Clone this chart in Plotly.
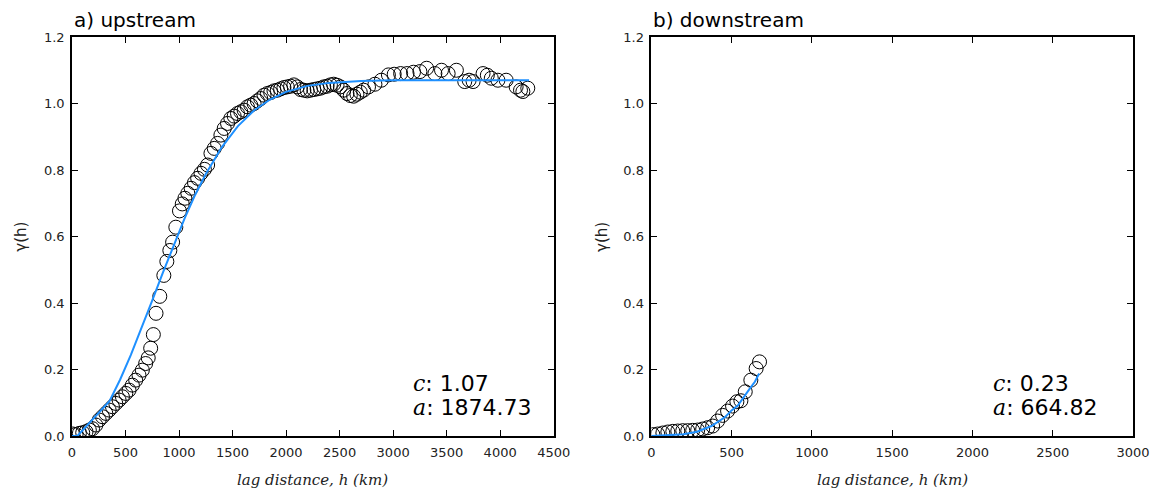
import plotly.graph_objects as go

# ---------------- data: upstream ----------------
up_h = [8, 38, 69, 100, 131, 162, 192, 223, 254, 285, 316, 347, 378, 409, 440, 471, 502, 533,
        564, 595, 626, 657, 688, 712, 735, 760, 785, 820, 858, 886, 914, 940, 970, 1004, 1030,
        1055, 1082, 1113, 1144, 1174, 1205, 1237, 1267, 1298, 1329, 1360, 1391, 1422, 1453,
        1484, 1515, 1546, 1577, 1608, 1639, 1670, 1701, 1732, 1763, 1794, 1825, 1856, 1887,
        1918, 1949, 1980, 2011, 2042, 2073, 2104, 2135, 2166, 2197, 2228, 2259, 2290, 2321,
        2352, 2383, 2414, 2445, 2476, 2507, 2538, 2569, 2600, 2631, 2662, 2693, 2724, 2770,
        2830, 2890, 2956, 3010, 3070, 3130, 3190, 3250, 3313, 3390, 3452, 3514, 3591, 3669,
        3710, 3747, 3840, 3880, 3917, 3979, 4056, 4149, 4190, 4212, 4258]
up_g = [0.006, 0.004, 0.008, 0.010, 0.013, 0.018, 0.022, 0.033, 0.048, 0.058, 0.068, 0.078,
        0.088, 0.098, 0.108, 0.118, 0.128, 0.138, 0.153, 0.168, 0.183, 0.198, 0.218, 0.235,
        0.264, 0.305, 0.369, 0.420, 0.483, 0.525, 0.558, 0.583, 0.628, 0.677, 0.698, 0.715,
        0.730, 0.745, 0.762, 0.775, 0.790, 0.802, 0.815, 0.850, 0.865, 0.880, 0.905, 0.925,
        0.940, 0.955, 0.962, 0.970, 0.975, 0.980, 0.990, 0.995, 1.000, 1.008, 1.015, 1.025,
        1.030, 1.033, 1.038, 1.040, 1.044, 1.048, 1.050, 1.052, 1.056, 1.050, 1.042, 1.040,
        1.038, 1.040, 1.042, 1.044, 1.046, 1.050, 1.052, 1.056, 1.058, 1.055, 1.050, 1.040,
        1.030, 1.024, 1.022, 1.028, 1.034, 1.040, 1.050, 1.058, 1.070, 1.086, 1.088, 1.090,
        1.090, 1.094, 1.096, 1.106, 1.090, 1.100, 1.090, 1.100, 1.066, 1.070, 1.066, 1.090,
        1.085, 1.076, 1.070, 1.070, 1.050, 1.040, 1.036, 1.046]

up_fit_h = [0, 50, 350, 450, 550, 650, 750, 850, 950, 1050, 1150, 1250, 1400, 1550, 1700,
            1850, 2000, 2200, 2400, 2700, 3000, 3500, 4000, 4270]
up_fit_g = [0.0, 0.0, 0.105, 0.170, 0.244, 0.324, 0.408, 0.492, 0.575, 0.653, 0.725, 0.788,
            0.869, 0.932, 0.979, 1.012, 1.035, 1.053, 1.062, 1.068, 1.070, 1.070, 1.070, 1.070]

# ---------------- data: downstream ----------------
dn_h = [10, 40, 72, 103, 134, 165, 196, 227, 258, 289, 320, 351, 382, 413, 444, 475, 506,
        533, 558, 585, 620, 653, 674]
dn_g = [0.004, 0.006, 0.009, 0.012, 0.014, 0.015, 0.016, 0.016, 0.017, 0.018, 0.021, 0.025,
        0.030, 0.045, 0.062, 0.075, 0.090, 0.103, 0.106, 0.133, 0.168, 0.203, 0.223]

dn_fit_h = [0, 100, 200, 285, 375, 460, 500, 540, 575, 610, 645, 672]
dn_fit_g = [0.0, 0.002, 0.005, 0.013, 0.030, 0.057, 0.077, 0.092, 0.118, 0.140, 0.163, 0.188]

panel_titles = ["a) upstream", "b) downstream"]
params = [("1.07", "1874.73"), ("0.23", "664.82")]
x_ticks_up = [0, 500, 1000, 1500, 2000, 2500, 3000, 3500, 4000, 4500]
x_ticks_dn = [0, 500, 1000, 1500, 2000, 2500, 3000]
y_ticks = [0.0, 0.2, 0.4, 0.6, 0.8, 1.0, 1.2]

LINE = "#1E90FF"
marker = dict(symbol="circle-open", size=14, color="black", line=dict(width=1, color="black"))

fig = go.Figure()
fig.add_trace(go.Scatter(x=up_h, y=up_g, mode="markers", marker=marker, xaxis="x", yaxis="y",
                         showlegend=False))
fig.add_trace(go.Scatter(x=up_fit_h, y=up_fit_g, mode="lines", line=dict(color=LINE, width=2),
                         xaxis="x", yaxis="y", showlegend=False))
fig.add_trace(go.Scatter(x=dn_h, y=dn_g, mode="markers", marker=marker, xaxis="x2", yaxis="y2",
                         showlegend=False))
fig.add_trace(go.Scatter(x=dn_fit_h, y=dn_fit_g, mode="lines", line=dict(color=LINE, width=2),
                         xaxis="x2", yaxis="y2", showlegend=False))

tickfont = dict(family="DejaVu Sans", size=13, color="#222")
common = dict(showline=True, linecolor="black", linewidth=1.5, mirror="ticks", ticks="inside",
              ticklen=6, tickwidth=1, tickcolor="black", showgrid=False, zeroline=False,
              tickfont=tickfont)

fig.update_layout(
    width=1162, height=494,
    margin=dict(l=72, r=24, t=37, b=58),
    paper_bgcolor="white", plot_bgcolor="white",
    xaxis=dict(domain=[0, 0.454], range=[0, 4500], tickvals=x_ticks_up, anchor="y",
               ticklabelstandoff=4, **common),
    yaxis=dict(domain=[0, 1], range=[0, 1.2], tickvals=y_ticks, tickformat=".1f", anchor="x",
               ticklabelstandoff=3, **common),
    xaxis2=dict(domain=[0.546, 1], range=[0, 3000], tickvals=x_ticks_dn, anchor="y2",
                ticklabelstandoff=4, **common),
    yaxis2=dict(domain=[0, 1], range=[0, 1.2], tickvals=y_ticks, tickformat=".1f", anchor="x2",
                ticklabelstandoff=3, **common),
)

ann = []
for xl, title in zip([0.0, 0.546], panel_titles):
    ann.append(dict(text=title, x=xl, y=1.0426, xref="paper", yref="paper", xanchor="left",
                    yanchor="middle", showarrow=False,
                    font=dict(family="DejaVu Sans", size=20, color="black")))
for xc in [-0.0488, 0.499]:
    ann.append(dict(text="γ(h)", x=xc, y=0.5, xref="paper", yref="paper", textangle=-90,
                    xanchor="center", yanchor="middle", showarrow=False,
                    font=dict(family="DejaVu Sans", size=15, color="#222")))
for xc in [0.227, 0.773]:
    ann.append(dict(text="<i>lag distance, h (km)</i>", x=xc, y=-0.110, xref="paper",
                    yref="paper", xanchor="center", yanchor="middle", showarrow=False,
                    font=dict(family="DejaVu Serif", size=15, color="#222")))
for xl, (c, a) in zip([0.3199, 0.8659], params):
    ann.append(dict(text="<i><span style='font-family:DejaVu Serif'>c</span></i>: " + c,
                    x=xl, y=0.1328, xref="paper", yref="paper", xanchor="left",
                    yanchor="middle", showarrow=False,
                    font=dict(family="DejaVu Sans", size=22, color="black")))
    ann.append(dict(text="<i><span style='font-family:DejaVu Serif'>a</span></i>: " + a,
                    x=xl, y=0.0702, xref="paper", yref="paper", xanchor="left",
                    yanchor="middle", showarrow=False,
                    font=dict(family="DejaVu Sans", size=22, color="black")))
fig.update_layout(annotations=ann)

fig.write_html("out.html")
